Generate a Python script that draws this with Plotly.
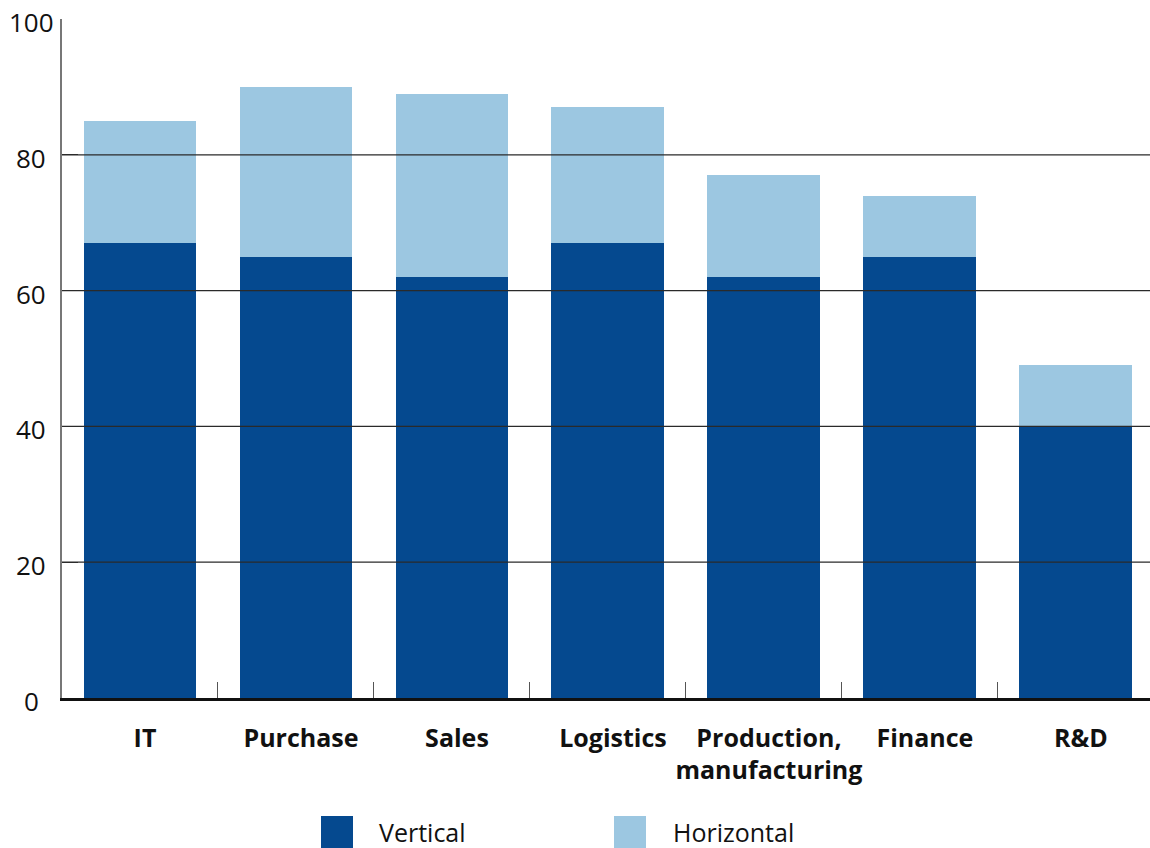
import plotly.graph_objects as go

# Share of respondents by department, split into two components
categories = ["IT", "Purchase", "Sales", "Logistics",
              "Production,<br>manufacturing", "Finance", "R&D"]
vertical = [67, 65, 62, 67, 62, 65, 40]
horizontal = [18, 25, 27, 20, 15, 9, 9]
series_names = ["Vertical", "Horizontal"]
y_ticks = [0, 20, 40, 60, 80, 100]

DARK = "#05498f"
LIGHT = "#9cc7e1"

W, H = 1150, 848
ML, MR, MT, MB = 62, 0, 19, 150
plot_w = W - ML - MR
plot_h = H - MT - MB


def px_x(px):
    return (px - ML) / plot_w


def px_y(py):
    return (H - MB - py) / plot_h


fig = go.Figure()
fig.add_trace(go.Bar(x=categories, y=vertical, name=series_names[0],
                     marker=dict(color=DARK, line=dict(width=0)),
                     showlegend=False))
fig.add_trace(go.Bar(x=categories, y=horizontal, name=series_names[1],
                     marker=dict(color=LIGHT, line=dict(width=0)),
                     showlegend=False))

shapes = []
# horizontal reference lines drawn on top of the bars
for t in y_ticks[1:-1]:
    shapes.append(dict(type="line", xref="paper", yref="y", x0=0, x1=1,
                       y0=t, y1=t, layer="above",
                       line=dict(color="#2a2a2a", width=1.3)))

annotations = []
for t in y_ticks:
    annotations.append(dict(xref="paper", yref="y", x=px_x(31), y=t,
                            text=str(t), showarrow=False, xanchor="center",
                            yanchor="middle", yshift=-3,
                            font=dict(family="Open Sans", size=26,
                                      color="#111")))

# legend drawn as large swatches with labels
legend_items = [(series_names[0], DARK, 321, 378),
                (series_names[1], LIGHT, 614, 672)]
for name, col, sx, tx in legend_items:
    shapes.append(dict(type="rect", xref="paper", yref="paper",
                       x0=px_x(sx), x1=px_x(sx + 32),
                       y0=px_y(849), y1=px_y(816),
                       fillcolor=col, line=dict(width=0)))
    annotations.append(dict(xref="paper", yref="paper", x=px_x(tx),
                            y=px_y(832), text=name, showarrow=False,
                            xanchor="left", yanchor="middle", borderpad=0,
                            font=dict(family="Open Sans", size=25,
                                      color="#111")))

fig.update_layout(
    width=W, height=H,
    margin=dict(l=ML, r=MR, t=MT, b=MB, pad=0, autoexpand=False),
    barmode="stack",
    bargap=0.276,
    plot_bgcolor="white",
    paper_bgcolor="white",
    showlegend=False,
    shapes=shapes,
    annotations=annotations,
    xaxis=dict(
        type="category",
        range=[-0.5, 6.475],
        showgrid=False, zeroline=False,
        showline=True, linecolor="#111", linewidth=2.5,
        ticks="inside", tickson="boundaries", ticklen=16,
        tickcolor="#555", tickwidth=1,
        tickangle=0, automargin=False,
        tickfont=dict(family="Open Sans", size=25, color="#111",
                      weight="bold"),
        ticklabelstandoff=16,
        ticklabelshift=5,
        layer="above traces",
    ),
    yaxis=dict(
        range=[0, 100], tickvals=y_ticks, showticklabels=False,
        showgrid=False, zeroline=False, automargin=False,
        showline=True, linecolor="#777", linewidth=1.5,
        ticks="inside", ticklen=16, tickcolor="#333", tickwidth=1.3,
        layer="above traces",
    ),
)

fig.write_html("out.html")
